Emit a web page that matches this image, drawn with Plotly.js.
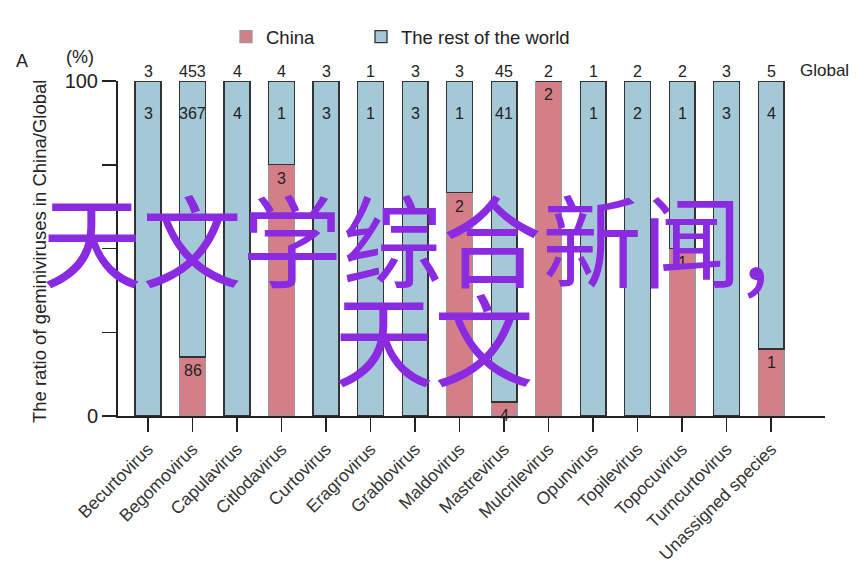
<!DOCTYPE html>
<html>
<head>
<meta charset="utf-8">
<script src="https://cdn.plot.ly/plotly-3.0.1.min.js"></script>
<style>html,body{margin:0;padding:0;background:#fff;}#chart{width:866px;height:565px;}</style>
</head>
<body>
<div id="chart"></div>
<script>
const categories = ['Becurtovirus','Begomovirus','Capulavirus','Citlodavirus','Curtovirus','Eragrovirus','Grablovirus','Maldovirus','Mastrevirus','Mulcrilevirus','Opunvirus','Topilevirus','Topocuvirus','Turncurtovirus','Unassigned species'];
const chinaPct = [0, 17.6, 0, 75, 0, 0, 0, 66.7, 4.2, 100, 0, 0, 50, 0, 20];
const restPct  = [100, 82.4, 100, 25, 100, 100, 100, 33.3, 95.8, 0, 100, 100, 50, 100, 80];
const globalCounts = [3, 453, 4, 4, 3, 1, 3, 3, 45, 2, 1, 2, 2, 3, 5];
const restCounts   = [3, 367, 4, 1, 3, 1, 3, 1, 41, null, 1, 2, 1, 3, 4];
const chinaCounts  = [null, 86, null, 3, null, null, null, 2, 4, 2, null, null, 1, null, 1];

const FONT = 'Liberation Sans, Arial, sans-serif';
const BLUE = '#a5c8d7';
const PINK = '#d47f87';

const traces = [
  {type:'bar', name:'China', x:categories, y:chinaPct, legend:'legend',
   marker:{color:PINK, line:{color:'#9a9a9a', width:1.3}}, hoverinfo:'skip'},
  {type:'bar', name:'The rest of the world', x:categories, y:restPct, legend:'legend2',
   marker:{color:BLUE, line:{color:'#333333', width:1.3}}, hoverinfo:'skip'}
];

const ann = [];
const tf = {family:FONT, size:16, color:'#222'};
categories.forEach((c,i)=>{
  ann.push({x:c, y:100, xref:'x', yref:'y', text:String(globalCounts[i]), showarrow:false,
            yanchor:'bottom', yshift:-1, font:tf});
  if (restCounts[i] !== null) {
    ann.push({x:c, y:100, xref:'x', yref:'y', text:String(restCounts[i]), showarrow:false,
              yanchor:'middle', yshift:-32, font:tf});
  }
  if (chinaCounts[i] !== null) {
    ann.push({x:c, y:chinaPct[i], xref:'x', yref:'y', text:String(chinaCounts[i]), showarrow:false,
              yanchor:'top', yshift:-3, font:tf});
  }
});
ann.push({xref:'paper', yref:'y', x:0.962, y:100, xanchor:'left', yanchor:'bottom', yshift:-1, text:'Global', showarrow:false, font:{family:FONT, size:17, color:'#222'}});
ann.push({xref:'paper', yref:'paper', x:-0.136, y:1.06, xanchor:'center', yanchor:'middle', text:'A', showarrow:false, font:{family:FONT, size:18, color:'#222'}});
ann.push({xref:'paper', yref:'paper', x:-0.054, y:1.072, xanchor:'center', yanchor:'middle', text:'(%)', showarrow:false, font:{family:FONT, size:18, color:'#222'}});
ann.push({xref:'paper', yref:'paper', x:-0.110, y:0.49, xanchor:'center', yanchor:'middle', textangle:-90,
          text:'The ratio of geminiviruses in China/Global', showarrow:false, font:{family:FONT, size:18.5, color:'#222'}});
// watermark
const WM = {family:'Noto Sans CJK SC, sans-serif', size:100, color:'#8a2be2'};
ann.push({xref:'paper', yref:'paper', x:(40-118)/707, y:(416-236)/335, xanchor:'left', yanchor:'middle',
          text:'天文学综合新闻,', showarrow:false, font:WM});
ann.push({xref:'paper', yref:'paper', x:(332-118)/707, y:(416-335)/335, xanchor:'left', yanchor:'middle',
          text:'天文', showarrow:false, font:WM});

const legFont = {family:FONT, size:18.5, color:'#222'};
const layout = {
  width:866, height:565,
  margin:{l:118, r:41, t:81, b:149},
  paper_bgcolor:'#fff', plot_bgcolor:'#fff',
  barmode:'stack', bargap:0.42,
  font:{family:FONT, color:'#222'},
  showlegend:true,
  legend:{orientation:'h', x:(226-118)/707, y:1.131, xanchor:'left', yanchor:'middle', font:legFont},
  legend2:{orientation:'h', x:(361-118)/707, y:1.131, xanchor:'left', yanchor:'middle', font:legFont},
  xaxis:{type:'category', range:[-0.674, 15.21], showline:true, linecolor:'#222', linewidth:2,
         ticks:'outside', ticklen:14, tickwidth:1.5, tickcolor:'#222', tickangle:-45,
         tickfont:{family:FONT, size:17.5, color:'#333'}, showgrid:false, zeroline:false, fixedrange:true},
  yaxis:{range:[0,100], showline:true, linecolor:'#222', linewidth:2,
         ticks:'outside', ticklen:14, tickwidth:1.5, tickcolor:'#222',
         tickvals:[0,25,50,75,100], ticktext:['0','','','','100'],
         tickfont:{family:FONT, size:20, color:'#222'}, showgrid:false, zeroline:false, fixedrange:true},
  annotations:ann
};
Plotly.newPlot('chart', traces, layout, {staticPlot:true, displayModeBar:false});
</script>
</body>
</html>
